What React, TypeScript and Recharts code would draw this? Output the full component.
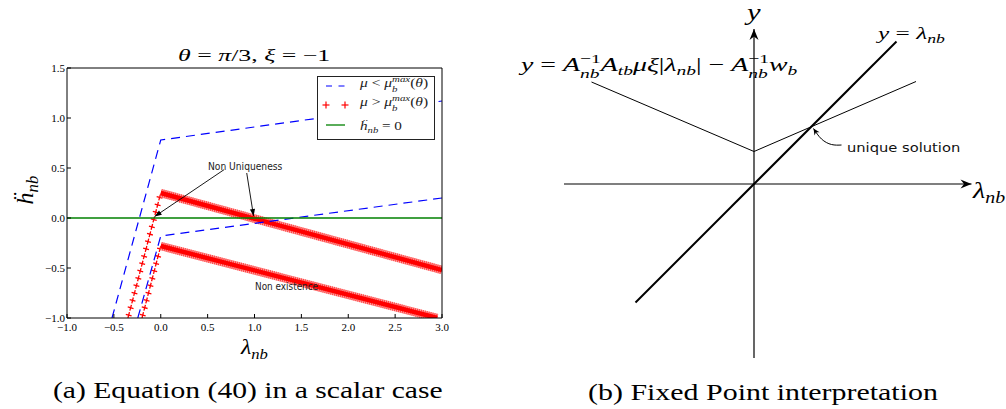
import React, { useLayoutEffect, useRef, useState } from 'react';
import { LineChart, Line, XAxis, YAxis } from 'recharts';

type Pt = { x: number; y: number };

// ---------- (a) Equation (40) in a scalar case ----------
const xTicksA = [-1, -0.5, 0, 0.5, 1, 1.5, 2, 2.5, 3];
const yTicksA = [-1, -0.5, 0, 0.5, 1, 1.5];
const blueUpper: Pt[] = [{ x: -0.52, y: -1 }, { x: 0, y: 0.78 }, { x: 3, y: 1.17 }];
const blueLower: Pt[] = [{ x: -0.245, y: -1 }, { x: 0, y: -0.18 }, { x: 3, y: 0.2 }];
const redUpper: Pt[] = [{ x: -0.35, y: -1 }, { x: 0, y: 0.25 }, { x: 3, y: -0.52 }];
const redLower: Pt[] = [{ x: -0.2, y: -1 }, { x: 0, y: -0.28 }, { x: 2.95, y: -1 }];
const zeroLine: Pt[] = [{ x: -1, y: 0 }, { x: 3, y: 0 }];
const arrowNonUniq1: Pt[] = [{ x: 0.675, y: 0.483 }, { x: -0.065, y: 0.015 }];
const arrowNonUniq2: Pt[] = [{ x: 0.917, y: 0.45 }, { x: 0.99, y: 0.02 }];

// ---------- (b) Fixed Point interpretation ----------
const lambdaAxis: Pt[] = [{ x: -3.8, y: 0 }, { x: 4.35, y: 0 }];
const yAxisLine: Pt[] = [{ x: 0, y: -3.48 }, { x: 0, y: 3.1 }];
const identityLine: Pt[] = [{ x: -2.37, y: -2.37 }, { x: 2.85, y: 2.85 }];
const vLine: Pt[] = [{ x: -3.25, y: 2.04 }, { x: 0, y: 0.65 }, { x: 3.24, y: 2.05 }];
const uniqueArrow: Pt[] = [{ x: 1.19, y: 1.11 }, { x: 1.35, y: 0.9 }, { x: 1.55, y: 0.79 }, { x: 1.75, y: 0.78 }];

const SERIF = '"Liberation Serif", "Times New Roman", serif';
const SANS = '"DejaVu Sans", "Noto Sans", sans-serif';

const fmt = (v: number) => (v < 0 ? '\u2212' : '') + Math.abs(v).toFixed(1);

function Fit({ left, cy, w, size, font = SERIF, color = '#000', children }: any) {
  const ref = useRef<HTMLSpanElement>(null);
  const [k, setK] = useState(1);
  useLayoutEffect(() => {
    if (ref.current) {
      const nw = ref.current.offsetWidth;
      if (nw > 0) setK(w / nw);
    }
  }, [w]);
  return (
    <div style={{ position: 'absolute', left, top: cy, transform: 'translateY(-50%)', lineHeight: 1, color }}>
      <span
        ref={ref}
        style={{
          display: 'inline-block',
          whiteSpace: 'nowrap',
          fontFamily: font,
          fontSize: size,
          lineHeight: 1,
          transformOrigin: '0 50%',
          transform: `scaleX(${k})`,
        }}
      >
        {children}
      </span>
    </div>
  );
}

const I = ({ children }: any) => <span style={{ fontStyle: 'italic' }}>{children}</span>;
const Sub = ({ children }: any) => (
  <span style={{ fontSize: '0.7em', fontStyle: 'italic', position: 'relative', top: '0.3em' }}>{children}</span>
);
function SubSup({ sub, sup, supItalic = false }: any) {
  return (
    <span
      style={{
        display: 'inline-flex',
        flexDirection: 'column',
        fontSize: '0.7em',
        lineHeight: 1.1,
        position: 'relative',
        top: '-0.6em',
      }}
    >
      <span style={{ fontStyle: supItalic ? 'italic' : 'normal', whiteSpace: 'nowrap' }}>{sup}</span>
      <span style={{ fontStyle: 'italic', whiteSpace: 'nowrap' }}>{sub}</span>
    </span>
  );
}

const common = { dataKey: 'y', dot: false, activeDot: false, isAnimationActive: false, legendType: 'none' as const };

function ChartA() {
  const ax = { xAxisId: 'b', yAxisId: 'l' };
  return (
    <LineChart width={460} height={360} margin={{ top: 67, right: 17, bottom: 12, left: 0 }}>
      <XAxis
        xAxisId="b"
        type="number"
        dataKey="x"
        domain={[-1, 3]}
        allowDataOverflow
        ticks={xTicksA}
        interval={0}
        tickFormatter={fmt}
        orientation="bottom"
        height={30}
        tickSize={-4}
        tickMargin={9}
        stroke="#000"
        tick={{ fill: '#000', fontSize: 11, fontFamily: SERIF }}
      />
      <XAxis
        xAxisId="t"
        type="number"
        dataKey="x"
        domain={[-1, 3]}
        allowDataOverflow
        ticks={xTicksA}
        interval={0}
        orientation="top"
        height={1}
        tickSize={-4}
        tick={false}
        stroke="#000"
      />
      <YAxis
        yAxisId="l"
        type="number"
        domain={[-1, 1.5]}
        allowDataOverflow
        ticks={yTicksA}
        interval={0}
        tickFormatter={fmt}
        width={67}
        tickSize={-4}
        tickMargin={6}
        stroke="#000"
        tick={{ fill: '#000', fontSize: 11, fontFamily: SERIF }}
      />
      <YAxis
        yAxisId="r"
        orientation="right"
        type="number"
        domain={[-1, 1.5]}
        allowDataOverflow
        ticks={yTicksA}
        interval={0}
        width={1}
        tickSize={-4}
        tick={false}
        stroke="#000"
      />

      {/* mu > mu_b^max : red plus markers, steep branches */}
      <Line {...ax} {...common} data={redUpper.slice(0, 2)} stroke="#ff0000" strokeWidth={1.3} strokeDasharray="6 1.6" />
      <Line {...ax} {...common} data={redUpper.slice(0, 2)} stroke="#ff0000" strokeWidth={6} strokeDasharray="0 2.35 1.3 3.95" />
      <Line {...ax} {...common} data={redLower.slice(0, 2)} stroke="#ff0000" strokeWidth={1.3} strokeDasharray="6 1.6" />
      <Line {...ax} {...common} data={redLower.slice(0, 2)} stroke="#ff0000" strokeWidth={6} strokeDasharray="0 2.35 1.3 3.95" />
      {/* dense branches */}
      <Line {...ax} {...common} data={redUpper.slice(1)} stroke="#ffa0a0" strokeWidth={8.5} />
      <Line {...ax} {...common} data={redUpper.slice(1)} stroke="#ff0000" strokeOpacity={0.6} strokeWidth={8.5} strokeDasharray="1 1" />
      <Line {...ax} {...common} data={redUpper.slice(1)} stroke="#ff0000" strokeWidth={4.5} />
      <Line {...ax} {...common} data={redLower.slice(1)} stroke="#ffa0a0" strokeWidth={8.5} />
      <Line {...ax} {...common} data={redLower.slice(1)} stroke="#ff0000" strokeOpacity={0.6} strokeWidth={8.5} strokeDasharray="1 1" />
      <Line {...ax} {...common} data={redLower.slice(1)} stroke="#ff0000" strokeWidth={4.5} />

      {/* mu < mu_b^max : blue dashed */}
      <Line {...ax} {...common} data={blueUpper} stroke="#0000ff" strokeWidth={1.2} strokeDasharray="9 6" />
      <Line {...ax} {...common} data={blueLower} stroke="#0000ff" strokeWidth={1.2} strokeDasharray="9 6" />

      {/* h_nb = 0 */}
      <Line {...ax} {...common} data={zeroLine} stroke="#008000" strokeWidth={1.3} />

      {/* annotations */}
      <Line {...ax} {...common} data={arrowNonUniq1} stroke="#000" strokeWidth={0.9} markerEnd="url(#arrowA)" />
      <Line {...ax} {...common} data={arrowNonUniq2} stroke="#000" strokeWidth={0.9} markerEnd="url(#arrowA)" />
    </LineChart>
  );
}

function ChartB() {
  return (
    <LineChart width={506} height={409} margin={{ top: 9, right: 27, bottom: 50, left: 54 }}>
      <XAxis type="number" dataKey="x" domain={[-4, 4.5]} allowDataOverflow hide />
      <YAxis type="number" domain={[-3.5, 3.5]} allowDataOverflow hide />
      <Line {...common} data={lambdaAxis} stroke="#000" strokeWidth={1.2} markerEnd="url(#stealth)" />
      <Line {...common} data={yAxisLine} stroke="#000" strokeWidth={1.2} markerEnd="url(#stealth)" />
      <Line {...common} data={vLine} stroke="#000" strokeWidth={1} />
      <Line {...common} data={identityLine} stroke="#000" strokeWidth={2} />
      <Line {...common} data={uniqueArrow} type="natural" stroke="#000" strokeWidth={1} markerStart="url(#stealthS)" />
    </LineChart>
  );
}

export default function App() {
  return (
    <div
      style={{
        position: 'absolute',
        left: 0,
        top: 0,
        width: 1006,
        height: 409,
        background: '#fff',
        fontFamily: SERIF,
        color: '#000',
        overflow: 'hidden',
      }}
    >
      <svg width={0} height={0} style={{ position: 'absolute' }}>
        <defs>
          <marker id="arrowA" viewBox="-8 -4 9 8" refX={0} refY={0} markerWidth={9} markerHeight={8} markerUnits="userSpaceOnUse" orient="auto">
            <path d="M0,0 L-7,-2.6 L-7,2.6 Z" fill="#000" />
          </marker>
          <marker id="stealth" viewBox="-12 -6 13 12" refX={0} refY={0} markerWidth={13} markerHeight={12} markerUnits="userSpaceOnUse" orient="auto">
            <path d="M0,0 L-11,-4.5 L-7.5,0 L-11,4.5 Z" fill="#000" />
          </marker>
          <marker id="stealthS" viewBox="-8 -4 9 8" refX={0} refY={0} markerWidth={9} markerHeight={8} markerUnits="userSpaceOnUse" orient="auto-start-reverse">
            <path d="M0,0 L-6.5,-3 L-4.5,0 L-6.5,3 Z" fill="#000" />
          </marker>
        </defs>
      </svg>

      <div style={{ position: 'absolute', left: 0, top: 0 }}>
        <ChartA />
      </div>
      <div style={{ position: 'absolute', left: 500, top: 0 }}>
        <ChartB />
      </div>

      {/* ---- (a) texts ---- */}
      <Fit left={178} cy={55} w={152} size={17}>
        <I>θ</I> = <I>π</I>/3, <I>ξ</I> = −1
      </Fit>
      <div
        style={{
          position: 'absolute',
          left: 25,
          top: 190,
          transform: 'translate(-50%,-50%) rotate(-90deg)',
          fontSize: 24,
          lineHeight: 1,
          whiteSpace: 'nowrap',
        }}
      >
        <I>ḧ</I>
        <Sub>nb</Sub>
      </div>
      <Fit left={241} cy={347} w={27} size={22}>
        <I>λ</I>
        <Sub>nb</Sub>
      </Fit>
      <Fit left={53} cy={390} w={390} size={23}>
        (a) Equation (40) in a scalar case
      </Fit>
      <Fit left={208} cy={164.5} w={74} size={10} font={SANS} color="#222">
        Non Uniqueness
      </Fit>
      <Fit left={255} cy={284.5} w={63} size={10} font={SANS} color="#222">
        Non existence
      </Fit>

      {/* legend */}
      <div
        style={{
          position: 'absolute',
          left: 317,
          top: 76,
          width: 118,
          height: 64,
          boxSizing: 'border-box',
          border: '1px solid #222',
          background: '#fff',
        }}
      />
      <svg width={30} height={60} style={{ position: 'absolute', left: 322, top: 78 }}>
        <line x1={4} y1={8} x2={23} y2={8} stroke="#0000ff" strokeWidth={1.2} strokeDasharray="6 6.5" />
        <line x1={0.5} y1={27} x2={7.5} y2={27} stroke="#ff0000" strokeWidth={1.2} />
        <line x1={4} y1={23.5} x2={4} y2={30.5} stroke="#ff0000" strokeWidth={1.2} />
        <line x1={19.5} y1={27} x2={26.5} y2={27} stroke="#ff0000" strokeWidth={1.2} />
        <line x1={23} y1={23.5} x2={23} y2={30.5} stroke="#ff0000" strokeWidth={1.2} />
        <line x1={4} y1={47} x2={23} y2={47} stroke="#008000" strokeWidth={1.3} />
      </svg>
      <Fit left={360} cy={86} w={68} size={13} color="#222">
        <I>μ</I> &lt; <I>μ</I>
        <SubSup sub="b" sup="max" supItalic />(<I>θ</I>)
      </Fit>
      <Fit left={360} cy={105} w={68} size={13} color="#222">
        <I>μ</I> &gt; <I>μ</I>
        <SubSup sub="b" sup="max" supItalic />(<I>θ</I>)
      </Fit>
      <Fit left={360} cy={125} w={42} size={13} color="#222">
        <I>ḧ</I>
        <Sub>nb</Sub> = 0
      </Fit>

      {/* ---- (b) texts ---- */}
      <Fit left={747} cy={12} w={14} size={24}>
        <I>y</I>
      </Fit>
      <Fit left={878} cy={33} w={67} size={17}>
        <I>y</I> = <I>λ</I>
        <Sub>nb</Sub>
      </Fit>
      <Fit left={521} cy={72} w={277} size={19}>
        <I>y</I> = <I>A</I>
        <SubSup sub="nb" sup="−1" />
        <I>A</I>
        <Sub>tb</Sub>
        <I>μξ</I>|<I>λ</I>
        <Sub>nb</Sub>| − <I>A</I>
        <SubSup sub="nb" sup="−1" />
        <I>w</I>
        <Sub>b</Sub>
      </Fit>
      <Fit left={973} cy={190} w={32} size={24}>
        <I>λ</I>
        <Sub>nb</Sub>
      </Fit>
      <Fit left={847} cy={147} w={113} size={13} font={SANS} color="#111">
        unique solution
      </Fit>
      <Fit left={588} cy={392} w={350} size={23}>
        (b) Fixed Point interpretation
      </Fit>
    </div>
  );
}
